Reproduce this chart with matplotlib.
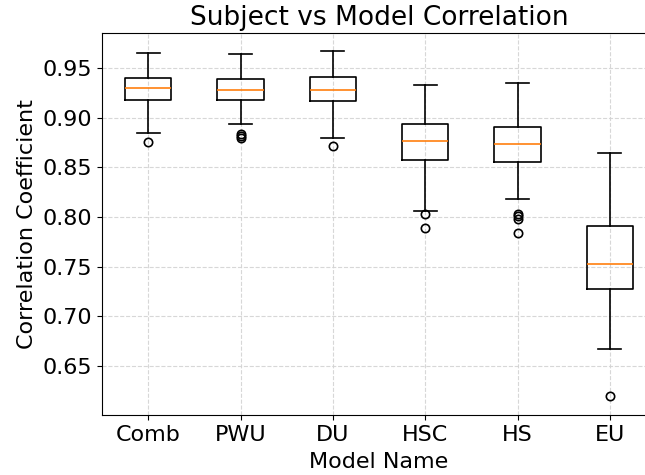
import matplotlib.pyplot as plt

# box statistics per model (correlation coefficient)
models = ['Comb', 'PWU', 'DU', 'HSC', 'HS', 'EU']
medians = [0.930, 0.928, 0.928, 0.877, 0.874, 0.753]
q1 = [0.918, 0.918, 0.9165, 0.857, 0.855, 0.727]
q3 = [0.9405, 0.9395, 0.941, 0.894, 0.891, 0.791]
whis_lo = [0.885, 0.894, 0.880, 0.806, 0.818, 0.667]
whis_hi = [0.965, 0.964, 0.967, 0.933, 0.935, 0.865]
fliers = [
    [0.8755],
    [0.884, 0.882, 0.880],
    [0.8715],
    [0.803, 0.789],
    [0.8035, 0.801, 0.798, 0.784],
    [0.6195],
]

stats = []
for i, name in enumerate(models):
    stats.append({'label': name, 'med': medians[i], 'q1': q1[i], 'q3': q3[i],
                  'whislo': whis_lo[i], 'whishi': whis_hi[i], 'fliers': fliers[i]})

fig = plt.figure(figsize=(6.45, 4.75), dpi=100)
ax = fig.add_axes([102 / 645, 60 / 475, 554 / 645, 382 / 475])

lw = 1.2
ax.bxp(stats, showfliers=True,
       boxprops={'linewidth': lw}, whiskerprops={'linewidth': lw},
       capprops={'linewidth': lw}, medianprops={'linewidth': lw, 'color': 'C1'},
       flierprops={'markeredgewidth': lw})
ax.set_xlim(0.5, 6.5)
ax.set_ylim(0.6005, 0.9855)
ax.set_yticks([0.65, 0.70, 0.75, 0.80, 0.85, 0.90, 0.95])

ax.grid(True, linestyle='--', color='lightgray', alpha=0.9)
ax.set_axisbelow(True)
ax.tick_params(labelsize=16)
ax.set_title('Subject vs Model Correlation', fontsize=19)
ax.set_xlabel('Model Name', fontsize=16, labelpad=5)
ax.set_ylabel('Correlation Coefficient', fontsize=16)

plt.savefig('out.png', dpi=100)
